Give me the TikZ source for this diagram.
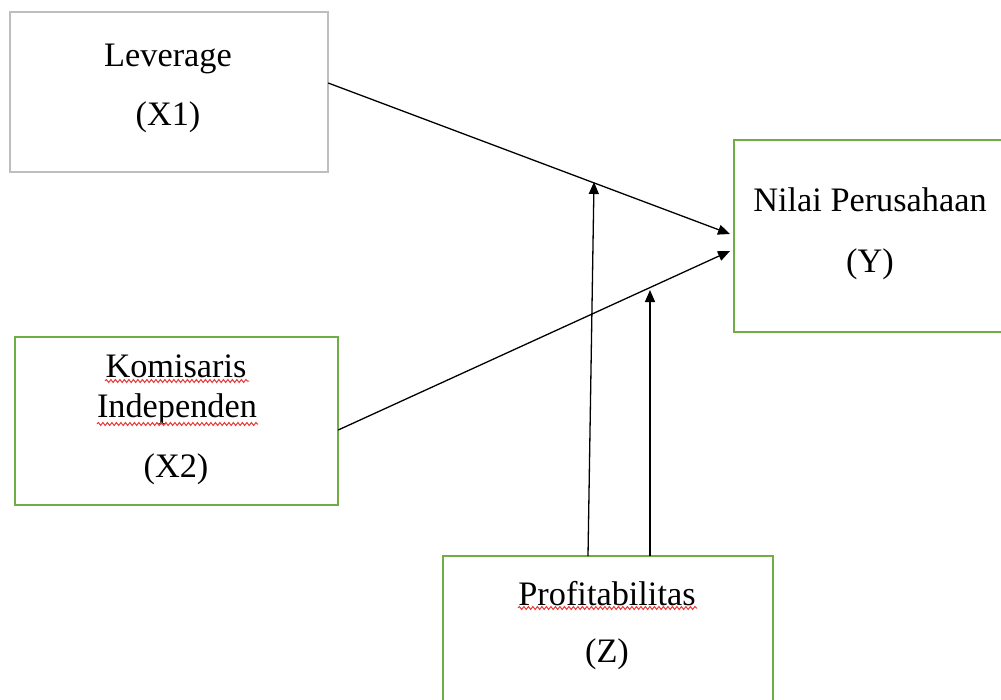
\documentclass[tikz,border=0pt]{standalone}
\usepackage{fontspec}
\setmainfont{Liberation Serif}
\usetikzlibrary{arrows.meta,decorations.pathmorphing}
\definecolor{boxgray}{RGB}{190,190,190}
\definecolor{boxgreen}{RGB}{112,173,71}
\definecolor{spellred}{RGB}{235,60,60}
\begin{document}
\begin{tikzpicture}[x=1pt,y=-1pt,
  graybox/.style={draw=boxgray,line width=1.2pt},
  greenbox/.style={draw=boxgreen,line width=1.2pt},
  lbl/.style={anchor=base,inner sep=0pt,font=\fontsize{34.3}{40}\selectfont},
  conn/.style={draw=black,line width=1.3pt,-{Triangle[length=12pt,width=10pt]}},
  wavy/.style={draw=spellred,line width=1pt,decorate,decoration={snake,amplitude=1.5pt,segment length=4.5pt}}]
\useasboundingbox (0,0) rectangle (1001,699);
\fill[white] (0,0) rectangle (1001,699);
\begin{scope}
\clip (0,0) rectangle (1001,699);
% boxes
\draw[graybox] (10,12) rectangle (328,172);
\draw[greenbox] (734,140) rectangle (1010,332);
\draw[greenbox] (15,337) rectangle (338,505);
\draw[greenbox] (443,556) rectangle (773,710);
\end{scope}
% box nodes (invisible anchors)
\node[inner sep=0pt,minimum width=318pt,minimum height=160pt] (lev) at (169,92) {};
\node[inner sep=0pt,minimum width=276pt,minimum height=192pt] (nil) at (872,236) {};
\node[inner sep=0pt,minimum width=323pt,minimum height=168pt] (kom) at (176.5,421) {};
\node[inner sep=0pt,minimum width=330pt,minimum height=154pt] (pro) at (608,633) {};
% labels
\node[lbl] (t1) at (168,66) {Leverage};
\node[lbl] (t2) at (168,125) {(X1)};
\node[lbl] (t3) at (870,211) {Nilai Perusahaan};
\node[lbl] (t4) at (870,272) {(Y)};
\node[lbl] (t5) at (176,377) {Komisaris};
\node[lbl] (t6) at (177,417) {Independen};
\node[lbl] (t7) at (176,477) {(X2)};
\node[lbl] (t8) at (607,605) {Profitabilitas};
\node[lbl] (t9) at (607,662) {(Z)};
% spell-check underlines
\draw[wavy] (105,381) -- (249,381);
\draw[wavy] (97,424) -- (258,424);
\draw[wavy] (518,608) -- (697,608);
% connector end points
\coordinate (a1s) at (lev.east |- 0,83);
\coordinate (a1e) at (730,234);
\coordinate (a2s) at (kom.east |- 0,430);
\coordinate (a2e) at (730,251);
\coordinate (v1s) at (588,556);
\coordinate (v1e) at (594,182);
\coordinate (v2s) at (650,556);
\coordinate (v2e) at (650,290);
\draw[conn] (a1s) -- (a1e);
\draw[conn] (a2s) -- (a2e);
\draw[conn] (v1s) -- (v1e);
\draw[conn] (v2s) -- (v2e);
\end{tikzpicture}
\end{document}
